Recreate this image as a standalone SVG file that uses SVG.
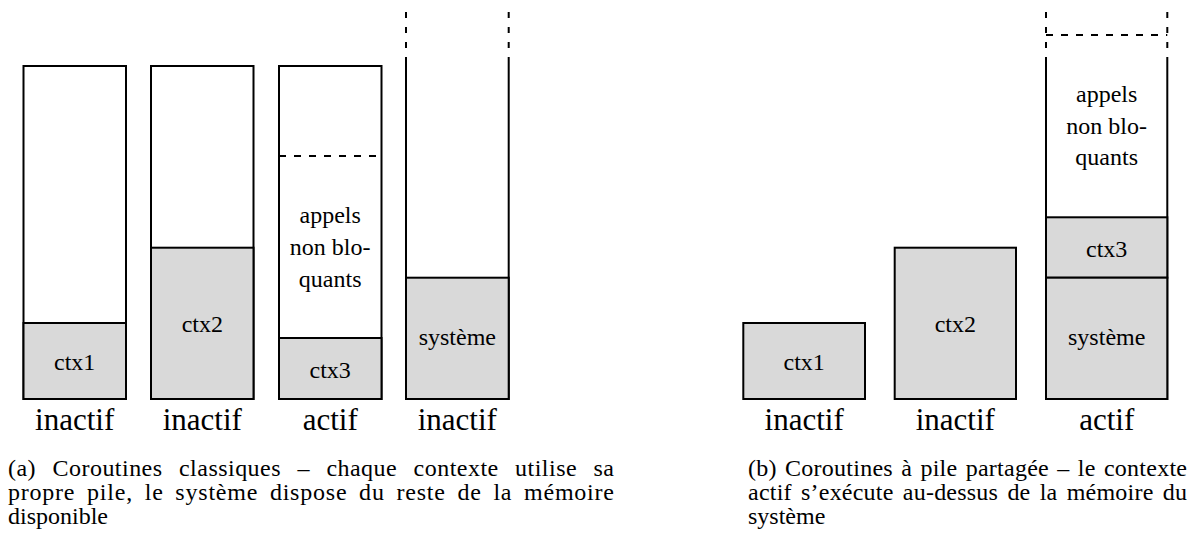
<svg xmlns="http://www.w3.org/2000/svg" width="1195" height="540" viewBox="0 0 1195 540">
  <style>
    .frame { fill: none; stroke: #000; stroke-width: 2; }
    .used { fill: #d9d9d9; stroke: #000; stroke-width: 2; }
    .dash { fill: none; stroke: #000; stroke-width: 2; stroke-dasharray: 7 8; }
    .vdash { fill: none; stroke: #000; stroke-width: 2; stroke-dasharray: 6 9; }
    .lbl { font-size: 24px; text-anchor: middle; }
    .state { font-size: 31px; text-anchor: middle; }
    .cap { font-size: 24px; }
  </style>
  <rect width="1195" height="540" fill="#fff"/>

  <g font-family="Liberation Serif, DejaVu Serif, Times New Roman, serif" fill="#000">
  <!-- (a) classic coroutines: one stack per context -->
  <g id="a-ctx1">
    <rect class="frame" x="23.5" y="66" width="102.5" height="333"/>
    <rect class="used" x="23.5" y="323" width="102.5" height="76"/>
    <text class="lbl" x="74.7" y="370">ctx1</text>
    <text class="state" x="74.7" y="430">inactif</text>
  </g>
  <g id="a-ctx2">
    <rect class="frame" x="151" y="66" width="102.5" height="333"/>
    <rect class="used" x="151" y="247.7" width="102.5" height="151.3"/>
    <text class="lbl" x="202.3" y="332">ctx2</text>
    <text class="state" x="202.3" y="430">inactif</text>
  </g>
  <g id="a-ctx3">
    <rect class="frame" x="279" y="66" width="102.5" height="333"/>
    <line class="dash" x1="279" y1="156" x2="381.5" y2="156"/>
    <rect class="used" x="279" y="338" width="102.5" height="61"/>
    <text class="lbl" x="330.2" y="223">appels</text>
    <text class="lbl" x="330.2" y="255">non blo-</text>
    <text class="lbl" x="330.2" y="286.5">quants</text>
    <text class="lbl" x="330.2" y="378">ctx3</text>
    <text class="state" x="330.2" y="430">actif</text>
  </g>
  <g id="a-systeme">
    <path class="vdash" d="M406 12 V58 M508.7 12 V58"/>
    <path class="frame" d="M406 58 V399 H508.7 V58"/>
    <rect class="used" x="406" y="277.7" width="102.7" height="121.3"/>
    <text class="lbl" x="457.3" y="345">système</text>
    <text class="state" x="457.3" y="430">inactif</text>
  </g>

  <!-- (b) shared-stack coroutines: active context runs on top of the system stack -->
  <g id="b-ctx1">
    <rect class="used" x="743.3" y="323" width="121.7" height="76"/>
    <text class="lbl" x="804.2" y="370">ctx1</text>
    <text class="state" x="804.2" y="430">inactif</text>
  </g>
  <g id="b-ctx2">
    <rect class="used" x="894.7" y="247.7" width="121.3" height="151.3"/>
    <text class="lbl" x="955.3" y="332">ctx2</text>
    <text class="state" x="955.3" y="430">inactif</text>
  </g>
  <g id="b-stack">
    <path class="vdash" d="M1046 12 V58 M1167.3 12 V58"/>
    <line class="dash" x1="1046" y1="35" x2="1167.3" y2="35"/>
    <path class="frame" d="M1046 58 V399 H1167.3 V58"/>
    <rect class="used" x="1046" y="217.3" width="121.3" height="60.4"/>
    <rect class="used" x="1046" y="277.7" width="121.3" height="121.3"/>
    <text class="lbl" x="1106.7" y="102">appels</text>
    <text class="lbl" x="1106.7" y="133.5">non blo-</text>
    <text class="lbl" x="1106.7" y="165">quants</text>
    <text class="lbl" x="1106.7" y="256.5">ctx3</text>
    <text class="lbl" x="1106.7" y="345">système</text>
    <text class="state" x="1106.7" y="430">actif</text>
  </g>

  <!-- no connectors in this figure -->
  <g id="connectors"/>

  <!-- captions: full lines justified through word spacing -->
  <g id="caption-a">
    <text class="cap" x="8" y="476" word-spacing="10" textLength="606" lengthAdjust="spacing">(a) Coroutines classiques – chaque contexte utilise sa</text>
    <text class="cap" x="8" y="500" word-spacing="5" textLength="606" lengthAdjust="spacing">propre pile, le système dispose du reste de la mémoire</text>
    <text class="cap" x="8" y="524">disponible</text>
  </g>
  <g id="caption-b">
    <text class="cap" x="748" y="476" word-spacing="2" textLength="439" lengthAdjust="spacing">(b) Coroutines à pile partagée – le contexte</text>
    <text class="cap" x="748" y="500" word-spacing="3" textLength="439" lengthAdjust="spacing">actif s’exécute au-dessus de la mémoire du</text>
    <text class="cap" x="748" y="524">système</text>
  </g>
  </g>
</svg>
